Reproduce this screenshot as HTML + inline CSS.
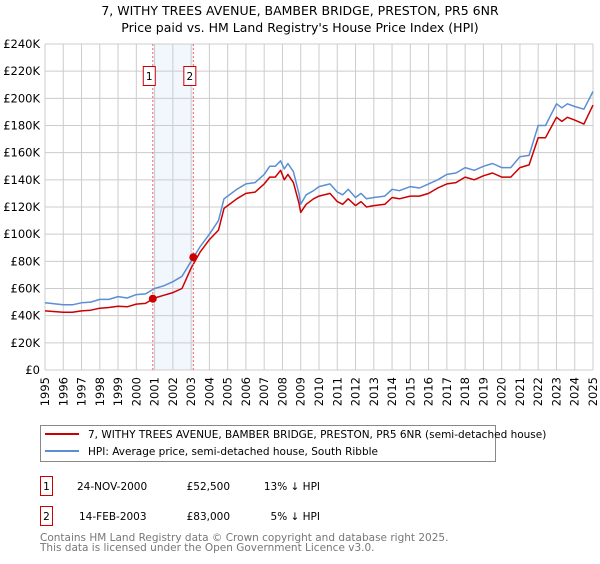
<!DOCTYPE html>
<html><head><meta charset="utf-8"><style>
body{margin:0;background:#fff;width:600px;height:560px;overflow:hidden;font-family:"DejaVu Sans","Liberation Sans",sans-serif;}
svg text{font-family:"DejaVu Sans","Liberation Sans",sans-serif;}
</style></head><body>
<svg id="chart" width="600" height="560" viewBox="0 0 600 560" xmlns="http://www.w3.org/2000/svg">
<text x="300" y="15" text-anchor="middle" font-size="12.5">7, WITHY TREES AVENUE, BAMBER BRIDGE, PRESTON, PR5 6NR</text>
<text x="300" y="32" text-anchor="middle" font-size="12.5">Price paid vs. HM Land Registry's House Price Index (HPI)</text>
<g id="grid"></g>
<g id="marks"></g>
<g id="axes"></g>
<g>
<rect x="40.5" y="425.5" width="455" height="36" fill="#fff" stroke="#888"/>
<line x1="45" y1="434" x2="79" y2="434" stroke="#cc0000" stroke-width="2"/>
<text x="88" y="438" font-size="10.5">7, WITHY TREES AVENUE, BAMBER BRIDGE, PRESTON, PR5 6NR (semi-detached house)</text>
<line x1="45" y1="451" x2="79" y2="451" stroke="#5b8fd3" stroke-width="2"/>
<text x="88" y="455" font-size="10.5">HPI: Average price, semi-detached house, South Ribble</text>
</g>
<g font-size="10.5">
<rect x="40.5" y="476.5" width="12" height="19" fill="#fff" stroke="#cc0000"/>
<text x="46.5" y="490" text-anchor="middle">1</text>
<text x="77" y="490">24-NOV-2000</text>
<text x="230" y="490" text-anchor="end">£52,500</text>
<text x="320" y="490" text-anchor="end">13% ↓ HPI</text>
<rect x="40.5" y="506.5" width="12" height="19" fill="#fff" stroke="#cc0000"/>
<text x="46.5" y="520" text-anchor="middle">2</text>
<text x="79" y="520">14-FEB-2003</text>
<text x="230" y="520" text-anchor="end">£83,000</text>
<text x="320" y="520" text-anchor="end">5% ↓ HPI</text>
</g>
<text x="40" y="541" font-size="10.5" fill="#777">Contains HM Land Registry data © Crown copyright and database right 2025.</text>
<text x="40" y="551" font-size="10.5" fill="#777">This data is licensed under the Open Government Licence v3.0.</text>
</svg>
<script>
const dates=[1995,1996,1996.5,1997,1997.5,1998,1998.5,1999,1999.5,2000,2000.5,2001,2001.5,2002,2002.5,2003,2003.5,2004,2004.5,2004.8,2005,2005.5,2006,2006.5,2007,2007.3,2007.6,2007.9,2008.1,2008.3,2008.6,2008.9,2009.0,2009.3,2009.7,2010,2010.6,2011,2011.3,2011.6,2012,2012.3,2012.6,2013,2013.6,2014,2014.4,2015,2015.5,2016,2016.5,2017,2017.5,2018,2018.5,2019,2019.5,2020,2020.5,2021,2021.5,2022,2022.4,2023,2023.3,2023.6,2024,2024.5,2025];
const hpi=[49.5,48,48,49.5,50,52,52,54,53,55.5,56,60,62,65,69,80,91,100,110,126,128,133,137,138,144,150,150,154,148,152,146,130,122,129,132,135,137,131,129,133,127,130,126,127,128,133,132,135,134,137,140,144,145,149,147,150,152,149,149,157,158,180,180,196,193,196,194,192,205];
const prop=[43.5,42.5,42.5,43.5,44,45.5,46,47,46.5,48.5,49,53,55,57,60,75,87,96,103,119,121,126,130,131,137,142,142,147,140,144,138,123,116,122,126,128,130,124,122,126,121,124,120,121,122,127,126,128,128,130,134,137,138,142,140,143,145,142,142,149,151,171,171,186,183,186,184,181,195];
const saleDates=[2000.9,2003.12];
const salePrices=[52.5,83];
const yTicks=[0,20,40,60,80,100,120,140,160,180,200,220,240];
const yTickLabels=["£0","£20K","£40K","£60K","£80K","£100K","£120K","£140K","£160K","£180K","£200K","£220K","£240K"];
const xTicks=[1995,1996,1997,1998,1999,2000,2001,2002,2003,2004,2005,2006,2007,2008,2009,2010,2011,2012,2013,2014,2015,2016,2017,2018,2019,2020,2021,2022,2023,2024,2025];

const NS="http://www.w3.org/2000/svg";
const X0=45,X1=593,Y0=370,Y1=44;
const x=d=>X0+(d-1995)/(2025-1995)*(X1-X0);
const y=v=>Y0-v/240*(Y0-Y1);
function mk(tag,attrs,parent){const e=document.createElementNS(NS,tag);for(const k in attrs)e.setAttribute(k,attrs[k]);parent.appendChild(e);return e;}
const grid=document.getElementById('grid'),marks=document.getElementById('marks'),axes=document.getElementById('axes');
const band=mk('rect',{x:x(saleDates[0]),y:Y1,width:x(saleDates[1])-x(saleDates[0]),height:Y0-Y1,fill:'#f2f6fd'},grid);


yTicks.forEach((t,i)=>{
 const l=mk('line',{x1:X0,x2:X1,y1:y(t),y2:y(t),stroke:'#cccccc','stroke-width':1},grid);
 
 
 const tx=mk('text',{x:X0-5,y:y(t)+4,'text-anchor':'end','font-size':11.5},axes);
 tx.textContent=yTickLabels[i];
 
 
});
xTicks.forEach(t=>{
 const l=mk('line',{x1:x(t),x2:x(t),y1:Y1,y2:Y0,stroke:'#cccccc','stroke-width':1},grid);
 
 
 const tx=mk('text',{x:0,y:0,'text-anchor':'end','font-size':11.5,transform:`translate(${x(t)+4},${Y0+7}) rotate(-90)`},axes);
 tx.textContent=t;
 
 
});
function path(vals,color,name){
 const d=dates.map((dt,i)=>(i?'L':'M')+x(dt).toFixed(1)+','+y(vals[i]).toFixed(1)).join('');
 const p=mk('path',{d:d,fill:'none',stroke:color,'stroke-width':1.5,'stroke-linejoin':'round'},marks);
 
 
}
path(hpi,'#5b8fd3','hpi-line');
path(prop,'#cc0000','property-line');
saleDates.forEach((d,i)=>{
 const l=mk('line',{x1:x(d),x2:x(d),y1:Y1,y2:Y0,stroke:'#ee6666','stroke-dasharray':'2,2','stroke-width':1},marks);
 
 
 const c=mk('circle',{cx:x(d),cy:y(salePrices[i]),r:4,fill:'#cc0000'},marks);
 
 
 const bx=x(d)-10;
 const r=mk('rect',{x:bx+0.5,y:66.5,width:12,height:19,fill:'#fff',stroke:'#cc0000'},marks);
 
 
 const t=mk('text',{x:bx+6.5,y:80,'text-anchor':'middle','font-size':10.5},marks);
 t.textContent=String(i+1);
 
 
});
</script>
</body></html>
